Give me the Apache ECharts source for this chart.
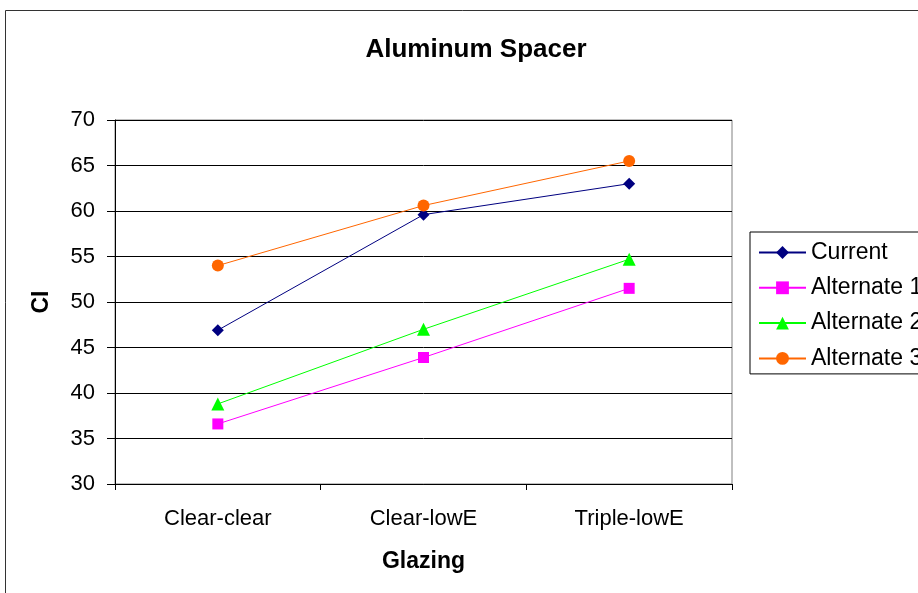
<!DOCTYPE html>
<html>
<head>
<meta charset="utf-8">
<script src="https://cdn.jsdelivr.net/npm/echarts@6/dist/echarts.min.js"></script>
<style>
  html, body { margin: 0; padding: 0; background: #fff; }
  #chart { width: 918px; height: 593px; }
</style>
</head>
<body>
<div id="chart"></div>
<script>
// Glazing options along the category axis
const glazing = ['Clear-clear', 'Clear-lowE', 'Triple-lowE'];

// CI values per spacer configuration
const current    = [46.9, 59.6, 63.0];
const alternate1 = [36.6, 43.9, 51.5];
const alternate2 = [38.8, 47.0, 54.7];
const alternate3 = [54.0, 60.6, 65.5];

const FONT = "'Liberation Sans', Arial, sans-serif";

function lineSeries(name, data, color, symbol, size) {
  return {
    name: name,
    type: 'line',
    data: data,
    symbol: symbol,
    symbolSize: size,
    showAllSymbol: true,
    lineStyle: { color: color, width: 1 },
    itemStyle: { color: color, borderWidth: 0 },
    emphasis: { disabled: true },
    animation: false
  };
}

const chart = echarts.init(document.getElementById('chart'), null, { renderer: 'canvas' });

chart.setOption({
  backgroundColor: '#fff',
  animation: false,
  title: {
    text: 'Aluminum Spacer',
    left: 471,
    top: 32,
    textAlign: 'center',
    textStyle: { fontFamily: FONT, fontSize: 26, fontWeight: 'bold', color: '#000' }
  },
  graphic: [{
    type: 'rect',
    shape: { x: 5.5, y: 10.5, width: 1000, height: 1000 },
    style: { fill: 'none', stroke: '#333', lineWidth: 1 },
    silent: true,
    z: -1
  }],
  legend: {
    orient: 'vertical',
    left: 750,
    top: 232,
    padding: [9, 12, 4, 8],
    itemGap: 12.3,
    itemWidth: 47,
    itemHeight: 16,
    borderColor: '#000',
    borderWidth: 1,
    backgroundColor: '#fff',
    textStyle: { fontFamily: FONT, fontSize: 23, color: '#000' },
    data: ['Current', 'Alternate 1', 'Alternate 2', 'Alternate 3']
  },
  grid: {
    left: 115,
    right: 186,
    top: 120,
    bottom: 109,
    show: true,
    borderColor: '#808080',
    borderWidth: 1,
    containLabel: false
  },
  xAxis: {
    type: 'category',
    data: glazing,
    boundaryGap: true,
    name: 'Glazing',
    nameLocation: 'middle',
    nameGap: 66,
    nameTextStyle: { fontFamily: FONT, fontSize: 23, fontWeight: 'bold', color: '#000' },
    axisLine: { show: true, lineStyle: { color: '#000', width: 1 } },
    axisTick: { show: true, inside: false, length: 6, alignWithLabel: false, lineStyle: { color: '#000' } },
    axisLabel: { fontFamily: FONT, fontSize: 22, color: '#000', margin: 24 },
    splitLine: { show: false }
  },
  yAxis: {
    type: 'value',
    min: 30,
    max: 70,
    interval: 5,
    name: 'CI',
    nameLocation: 'middle',
    nameRotate: 90,
    nameGap: 62,
    nameTextStyle: { fontFamily: FONT, fontSize: 23, fontWeight: 'bold', color: '#000' },
    axisLine: { show: true, lineStyle: { color: '#000', width: 1 } },
    axisTick: { show: true, inside: false, length: 8, lineStyle: { color: '#000' } },
    axisLabel: { fontFamily: FONT, fontSize: 22, color: '#000', margin: 20 },
    splitLine: { show: true, lineStyle: { color: '#000', width: 1 } }
  },
  series: [
    lineSeries('Current', current, '#000080', 'diamond', 12),
    lineSeries('Alternate 1', alternate1, '#FF00FF', 'rect', 11),
    lineSeries('Alternate 2', alternate2, '#00FF00', 'triangle', 13),
    lineSeries('Alternate 3', alternate3, '#FF6600', 'circle', 12)
  ]
});
</script>
</body>
</html>
